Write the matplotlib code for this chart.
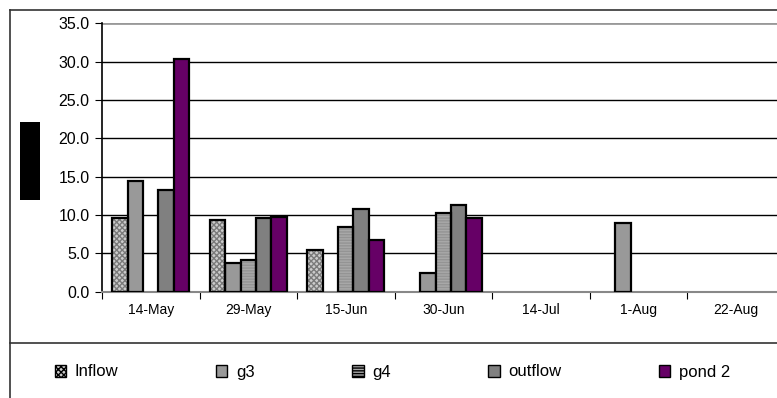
import matplotlib.pyplot as plt
from matplotlib.patches import Rectangle
from matplotlib.lines import Line2D
import numpy as np

plt.rcParams['font.family'] = ['Liberation Sans', 'DejaVu Sans']

dates = ['14-May', '29-May', '15-Jun', '30-Jun', '14-Jul', '1-Aug', '22-Aug']
inflow = [9.6, 9.3, 5.4, 0.0, 0.0, 0.0, 0.0]
g3 = [14.4, 3.7, 0.0, 2.4, 0.0, 8.9, 0.0]
g4 = [0.0, 4.1, 8.5, 10.3, 0.0, 0.0, 0.0]
outflow = [13.2, 9.6, 10.8, 11.3, 0.0, 0.0, 0.0]
pond2 = [30.3, 9.7, 6.8, 9.6, 0.0, 0.0, 0.0]

# name, values, fill, hatch, hatch colour
series = [
    ('Inflow', inflow, '#cccccc', 'xxxxxx', '#7a7a7a'),
    ('g3', g3, '#999999', None, None),
    ('g4', g4, '#a8a8a8', '------', '#949494'),
    ('outflow', outflow, '#808080', None, None),
    ('pond 2', pond2, '#660066', None, None),
]

W, H = 777, 398
fig = plt.figure(figsize=(W / 100, H / 100), dpi=100)
ax = fig.add_axes([102 / W, 1 - 291.7 / H, 7 * 97.5 / W, 268.4 / H])

x = np.arange(len(dates))
bw = 0.158
handles = []
for k, (name, vals, col, hatch, hcol) in enumerate(series):
    vals = np.array(vals)
    keep = vals > 0  # empty readings get no bar at all
    pos = (x + (k - 2) * bw)[keep]
    h = vals[keep]
    if hatch:
        # patterned fill first, then a plain black outline on top
        ax.bar(pos, h, bw, color=col, edgecolor=hcol, hatch=hatch,
               linewidth=0, zorder=3)
        ax.bar(pos, h, bw, fill=False, edgecolor='black', linewidth=1.6,
               zorder=4)
    else:
        ax.bar(pos, h, bw, color=col, edgecolor='black', linewidth=1.6,
               zorder=3)
    handles.append(Rectangle((0, 0), 1, 1, facecolor=col, edgecolor='black',
                             hatch=hatch, linewidth=1.0, label=name))

ax.set_xlim(-0.5, 6.5)
ax.set_ylim(0, 35)
ax.set_yticks(np.arange(0, 36, 5))
ax.set_yticklabels(['%.1f' % v for v in np.arange(0, 36, 5)], fontsize=11.5)
for v in np.arange(5, 31, 5):
    ax.axhline(v, color='black', linewidth=1.0, zorder=1)
ax.axhline(35, color='#999999', linewidth=2.0, zorder=1)

ax.set_xticks(np.arange(-0.5, 7, 1))
ax.set_xticklabels([])
ax.set_xticks(x, minor=True)
ax.set_xticklabels(dates, minor=True, fontsize=10)
ax.tick_params(axis='x', which='major', length=5, direction='out', color='black')
ax.tick_params(axis='x', which='minor', length=0, pad=8)
ax.tick_params(axis='y', length=5, direction='out', pad=4)

for s in ['top', 'right']:
    ax.spines[s].set_visible(False)
ax.spines['left'].set_linewidth(1.2)
ax.spines['bottom'].set_color('#888888')
ax.spines['bottom'].set_linewidth(1.5)

# blacked-out axis title
fig.patches.append(Rectangle((20 / W, 1 - 200 / H), 20 / W, 78 / H,
                             transform=fig.transFigure, facecolor='black',
                             edgecolor='none'))

# chart frame and legend divider
fx = 10 / W
fig.add_artist(Line2D([fx, fx], [0, 1 - 10 / H], color='#333333', lw=1.2,
                      transform=fig.transFigure))
fig.add_artist(Line2D([fx, 1], [1 - 10 / H, 1 - 10 / H], color='#333333',
                      lw=1.2, transform=fig.transFigure))
fig.add_artist(Line2D([fx, 1], [1 - 343 / H, 1 - 343 / H], color='#333333',
                      lw=1.2, transform=fig.transFigure))

fig.legend(handles=handles, ncol=5, loc='center left',
           bbox_to_anchor=(48 / W, 1 - 372 / H), frameon=False, fontsize=12,
           handlelength=0.7, handleheight=0.7, handletextpad=0.5,
           columnspacing=5.85, borderaxespad=0)

fig.savefig('out.png', dpi=100)
